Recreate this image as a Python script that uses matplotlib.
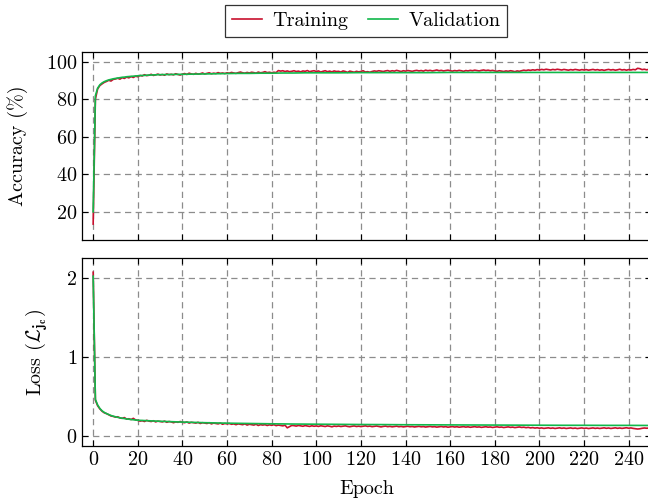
import matplotlib
matplotlib.use("Agg")
import matplotlib.pyplot as plt

plt.rcParams['font.family'] = 'serif'
plt.rcParams['font.serif'] = ['cmr10']
plt.rcParams['mathtext.fontset'] = 'cm'
plt.rcParams['axes.formatter.use_mathtext'] = True
plt.rcParams['font.size'] = 14.5

RED = "#C8102E"
GREEN = "#10B84A"

epochs = list(range(250))

train_acc = [
    13.5, 80.2, 85.6, 87.4, 88.3, 89.1, 89.6, 90.2, 89.8, 90.7,
    90.9, 91.3, 90.8, 91.6, 91.2, 91.9, 91.5, 92.2, 91.7, 92.4,
    92.1, 92.8, 92.5, 93.2, 92.7, 92.9, 93.4, 92.8, 93.1, 93.5,
    93.0, 93.3, 92.9, 93.6, 93.2, 93.4, 93.1, 93.7, 93.3, 93.0,
    93.5, 93.8, 93.3, 94.0, 93.6, 93.4, 93.9, 93.5, 93.7, 94.1,
    93.6, 93.9, 94.2, 93.7, 94.0, 93.8, 94.3, 93.9, 94.1, 93.8,
    94.2, 94.0, 94.4, 94.1, 93.9, 94.3, 94.6, 94.2, 94.0, 94.4,
    94.1, 94.5, 94.3, 94.0, 94.6, 94.2, 94.4, 94.8, 94.3, 94.5,
    94.2, 94.5, 94.3, 95.4, 95.1, 95.3, 94.9, 95.2, 94.8, 95.0,
    95.3, 94.9, 95.1, 94.7, 95.2, 95.0, 95.4, 94.8, 95.1, 95.3,
    94.9, 95.2, 94.6, 95.0, 95.3, 94.8, 95.1, 94.7, 95.2, 94.9,
    95.0, 94.6, 95.2, 94.9, 94.4, 95.1, 94.8, 94.5, 95.0, 94.7,
    94.9, 95.3, 94.6, 94.8, 94.5, 94.9, 95.2, 95.0, 95.3, 95.1,
    94.9, 95.2, 95.4, 95.0, 95.3, 95.1, 95.5, 95.2, 94.9, 95.3,
    95.1, 95.4, 95.2, 95.0, 95.3, 95.5, 95.2, 95.4, 95.1, 95.6,
    95.3, 95.5, 95.2, 95.4, 95.7, 95.3, 95.5, 95.2, 95.4, 95.6,
    95.3, 95.1, 95.4, 95.2, 95.5, 95.3, 95.0, 95.4, 95.2, 95.5,
    95.3, 95.6, 95.4, 95.2, 95.5, 95.7, 95.4, 95.6, 95.3, 95.5,
    95.2, 95.0, 95.3, 95.1, 94.9, 95.2, 95.0, 95.3, 95.1, 94.8,
    95.2, 95.0, 95.3, 95.6, 95.4, 95.7, 95.5, 95.8, 95.6, 95.9,
    95.7, 96.0, 95.8, 96.1, 95.9, 95.7, 96.0, 95.8, 96.1, 95.9,
    95.7, 96.0, 95.8, 95.6, 95.9, 95.7, 96.0, 95.8, 95.6, 95.9,
    95.7, 95.9, 95.6, 95.8, 96.0, 95.7, 95.9, 95.6, 95.8, 95.5,
    95.8, 96.0, 95.7, 95.9, 95.6, 95.8, 96.1, 95.7, 95.9, 95.6,
    95.9, 95.7, 96.0, 95.8, 96.6, 96.4, 95.9, 96.1, 95.8, 96.0,
]

val_epochs = list(range(30)) + [35, 40, 45, 50, 55, 60, 65, 70, 75, 80, 85, 90,
                                95, 100, 110, 120, 130, 140, 150, 160, 170, 180,
                                190, 200, 210, 220, 230, 240, 249]
val_acc = [
    20.0, 82.0, 86.0, 87.8, 88.8, 89.5, 90.0, 90.4, 90.7, 91.0,
    91.2, 91.4, 91.6, 91.8, 91.9, 92.1, 92.2, 92.3, 92.4, 92.5,
    92.6, 92.7, 92.8, 92.8, 92.9, 93.0, 93.0, 93.1, 93.1, 93.2,
    93.3, 93.4, 93.5, 93.6, 93.7, 93.8, 93.9, 93.9, 94.0, 94.0, 94.1, 94.1,
    94.2, 94.2, 94.2, 94.3, 94.3, 94.3, 94.3, 94.4, 94.4, 94.4,
    94.4, 94.4, 94.4, 94.4, 94.4, 94.4, 94.4,
]

train_loss = [
    2.07, 0.45, 0.38, 0.34, 0.31, 0.29, 0.28, 0.265, 0.25, 0.245,
    0.235, 0.24, 0.225, 0.22, 0.23, 0.21, 0.215, 0.205, 0.22, 0.20,
    0.195, 0.185, 0.19, 0.18, 0.195, 0.185, 0.18, 0.19, 0.175, 0.185,
    0.18, 0.175, 0.185, 0.17, 0.18, 0.175, 0.165, 0.175, 0.17, 0.18,
    0.17, 0.165, 0.175, 0.16, 0.17, 0.165, 0.16, 0.17, 0.155, 0.165,
    0.16, 0.155, 0.165, 0.15, 0.16, 0.155, 0.15, 0.16, 0.145, 0.155,
    0.15, 0.155, 0.145, 0.15, 0.14, 0.15, 0.145, 0.14, 0.15, 0.135,
    0.145, 0.14, 0.135, 0.145, 0.13, 0.14, 0.135, 0.14, 0.13, 0.138,
    0.132, 0.14, 0.128, 0.135, 0.13, 0.125, 0.133, 0.10, 0.115, 0.13,
    0.128, 0.122, 0.13, 0.125, 0.12, 0.128, 0.123, 0.118, 0.126, 0.12,
    0.124, 0.118, 0.126, 0.121, 0.117, 0.125, 0.12, 0.113, 0.122, 0.118,
    0.123, 0.117, 0.121, 0.125, 0.118, 0.114, 0.12, 0.124, 0.117, 0.121,
    0.116, 0.12, 0.125, 0.118, 0.122, 0.115, 0.119, 0.123, 0.117, 0.112,
    0.118, 0.122, 0.115, 0.119, 0.113, 0.117, 0.121, 0.114, 0.118, 0.112,
    0.116, 0.12, 0.114, 0.117, 0.111, 0.115, 0.119, 0.113, 0.116, 0.11,
    0.114, 0.118, 0.112, 0.115, 0.109, 0.113, 0.117, 0.111, 0.115, 0.108,
    0.112, 0.116, 0.11, 0.114, 0.108, 0.112, 0.115, 0.109, 0.113, 0.107,
    0.111, 0.115, 0.109, 0.112, 0.106, 0.11, 0.114, 0.108, 0.111, 0.105,
    0.109, 0.113, 0.107, 0.11, 0.104, 0.108, 0.112, 0.106, 0.109, 0.103,
    0.107, 0.111, 0.105, 0.108, 0.102, 0.106, 0.099, 0.103, 0.097, 0.101,
    0.095, 0.099, 0.093, 0.097, 0.1, 0.094, 0.098, 0.092, 0.096, 0.1,
    0.094, 0.098, 0.092, 0.096, 0.099, 0.093, 0.097, 0.091, 0.095, 0.099,
    0.093, 0.097, 0.091, 0.095, 0.099, 0.093, 0.097, 0.092, 0.096, 0.1,
    0.094, 0.098, 0.092, 0.096, 0.1, 0.094, 0.098, 0.093, 0.097, 0.101,
    0.095, 0.099, 0.093, 0.089, 0.085, 0.088, 0.094, 0.098, 0.095, 0.097,
]

val_loss_epochs = list(range(21)) + [30, 40, 50, 60, 70, 80, 90, 100, 110, 120,
                                     130, 140, 150, 160, 170, 180, 190, 200,
                                     210, 220, 230, 240, 249]
val_loss = [
    2.02, 0.46, 0.39, 0.345, 0.315, 0.295, 0.28, 0.268, 0.256, 0.247,
    0.24, 0.233, 0.227, 0.222, 0.217, 0.213, 0.209, 0.205, 0.202, 0.199,
    0.196,
    0.183, 0.173, 0.165, 0.159, 0.155, 0.151, 0.148, 0.146, 0.144, 0.142,
    0.141, 0.139, 0.138, 0.137, 0.136, 0.135, 0.134, 0.133,
    0.132, 0.132, 0.131, 0.131, 0.130,
]

xticks = list(range(0, 241, 20))

fig = plt.figure(figsize=(6.48, 5.04), dpi=100)
ax1 = fig.add_axes([82 / 648, 1 - 240 / 504, 569 / 648, 188 / 504])
ax2 = fig.add_axes([82 / 648, 1 - 446 / 504, 569 / 648, 188 / 504])

l1, = ax1.plot(epochs, train_acc, color=RED, lw=1.2, label="Training")
l2, = ax1.plot(val_epochs, val_acc, color=GREEN, lw=1.2, label="Validation")
ax2.plot(epochs, train_loss, color=RED, lw=1.2)
ax2.plot(val_loss_epochs, val_loss, color=GREEN, lw=1.2)

for ax in (ax1, ax2):
    ax.set_xlim(-5, 250)
    ax.set_xticks(xticks)
    ax.grid(True, color="#8c8c8c", linestyle=(0, (5, 3.5)), linewidth=0.9)
    ax.tick_params(direction="in", top=True, right=True, length=4.5,
                   width=0.8, labelsize=14.5)
    for s in ax.spines.values():
        s.set_linewidth(0.9)

ax1.set_ylim(5, 105.3)
ax1.set_yticks([20, 40, 60, 80, 100])
ax1.tick_params(labelbottom=False)
ax1.set_ylabel("Accuracy (%)")
ax1.yaxis.set_label_coords((28 - 82) / 569, 0.5)

ax2.set_ylim(-0.13, 2.25)
ax2.set_yticks([0, 1, 2])
ax2.set_ylabel(r"Loss ($\mathcal{L}_{\mathbf{j}_{\mathbf{c}}}$)")
ax2.yaxis.set_label_coords((50 - 82) / 569, 0.5)
ax2.set_xlabel("Epoch", labelpad=8)

leg = fig.legend(handles=[l1, l2], loc="center", bbox_to_anchor=(366 / 648, 1 - 21 / 504),
                 ncol=2, frameon=True, fancybox=False, edgecolor="black",
                 handlelength=1.5, handletextpad=0.5, columnspacing=1.0,
                 borderpad=0.35, fontsize=14.5)
leg.get_frame().set_linewidth(0.9)

fig.savefig("out.png", dpi=100)
